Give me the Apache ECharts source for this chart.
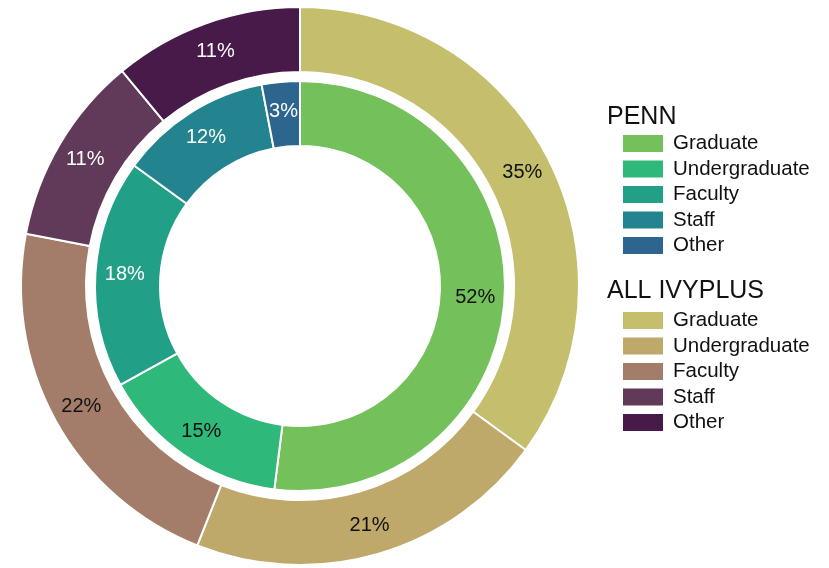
<!DOCTYPE html>
<html>
<head>
<meta charset="utf-8">
<script src="https://cdn.jsdelivr.net/npm/echarts@6/dist/echarts.min.js"></script>
<style>
  html, body { margin: 0; padding: 0; background: #fff; }
  #chart { width: 829px; height: 568px; }
</style>
</head>
<body>
<div id="chart"></div>
<script>
// Population groups shown in both rings
const categories = ['Graduate', 'Undergraduate', 'Faculty', 'Staff', 'Other'];

// Share of each group, percent
const pennValues = [52, 15, 18, 12, 3];
const ivyValues = [35, 21, 22, 11, 11];

// Ring colours
const pennColors = ['#74C15B', '#2EB87A', '#21A087', '#23848F', '#2C668F'];
const ivyColors = ['#C5BE6C', '#BEA86A', '#A37D6A', '#613A59', '#471A4A'];

// Label ink per slice (dark text on light slices, white on dark ones)
const pennLabelInk = ['#111', '#111', '#fff', '#fff', '#fff'];
const ivyLabelInk = ['#111', '#111', '#111', '#fff', '#fff'];

const SEP = '|';
function buildData(prefix, values, colors, ink) {
  return categories.map((c, i) => ({
    name: prefix + SEP + c,
    value: values[i],
    itemStyle: { color: colors[i] },
    label: { color: ink[i] }
  }));
}

const pennData = buildData('PENN', pennValues, pennColors, pennLabelInk);
const ivyData = buildData('IVY', ivyValues, ivyColors, ivyLabelInk);

const FONT = '"Liberation Sans", Arial, sans-serif';

function legendFor(prefix, top) {
  return {
    orient: 'vertical',
    left: 616,
    top: top,
    icon: 'rect',
    itemWidth: 42,
    itemHeight: 19,
    itemGap: 4.5,
    selectedMode: false,
    data: categories.map(c => prefix + SEP + c),
    formatter: name => name.split(SEP)[1],
    textStyle: { fontFamily: FONT, fontSize: 20.5, color: '#111', padding: [0, 0, 0, 4] }
  };
}

const chart = echarts.init(document.getElementById('chart'), null, { renderer: 'canvas' });

const pieLabel = {
  show: true,
  position: 'inside',
  formatter: p => p.value + '%',
  fontFamily: FONT,
  fontSize: 20
};

chart.setOption({
  animation: false,
  backgroundColor: '#fff',
  title: [
    { text: 'PENN', left: 602, top: 100,
      textStyle: { fontFamily: FONT, fontSize: 25, fontWeight: 'normal', color: '#111' } },
    { text: 'ALL IVYPLUS', left: 602, top: 274,
      textStyle: { fontFamily: FONT, fontSize: 25, fontWeight: 'normal', color: '#111' } }
  ],
  legend: [legendFor('PENN', 128), legendFor('IVY', 305)],
  series: [
    {
      name: 'ALL IVYPLUS',
      type: 'pie',
      center: [300, 286],
      radius: [214, 279],
      startAngle: 90,
      clockwise: true,
      itemStyle: { borderColor: '#fff', borderWidth: 2 },
      label: pieLabel,
      labelLine: { show: false },
      emphasis: { disabled: true },
      data: ivyData
    },
    {
      name: 'PENN',
      type: 'pie',
      center: [300, 286],
      radius: [140, 205],
      startAngle: 90,
      clockwise: true,
      itemStyle: { borderColor: '#fff', borderWidth: 2 },
      label: pieLabel,
      labelLine: { show: false },
      emphasis: { disabled: true },
      data: pennData
    }
  ]
});
</script>
</body>
</html>
